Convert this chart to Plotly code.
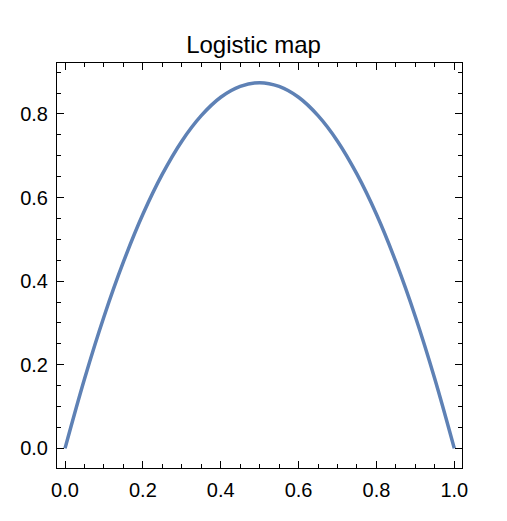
"""
    Logistic map
"""

import plotly.graph_objs as go

# curve values
x_vals = [0.0, 0.05, 0.1, 0.15, 0.2, 0.25, 0.3, 0.35, 0.4, 0.45, 0.5,
          0.55, 0.6, 0.65, 0.7, 0.75, 0.8, 0.85, 0.9, 0.95, 1.0]
y_vals = [0.0, 0.166, 0.315, 0.446, 0.56, 0.656, 0.735, 0.796, 0.84, 0.866, 0.875,
          0.866, 0.84, 0.796, 0.735, 0.656, 0.56, 0.446, 0.315, 0.166, 0.0]

x_ticks = [0.0, 0.2, 0.4, 0.6, 0.8, 1.0]
y_ticks = [0.0, 0.2, 0.4, 0.6, 0.8]

FONT = "Liberation Sans, Arial, sans-serif"


def axis_style(tickvals, rng, standoff):
    """ Framed axis with inside ticks, Mathematica look """
    return {
        "range": rng,
        "tickvals": tickvals,
        "ticktext": ["%.1f" % v for v in tickvals],
        "ticks": "inside",
        "ticklen": 7,
        "tickwidth": 1,
        "tickcolor": "black",
        "showline": True,
        "linecolor": "black",
        "linewidth": 1,
        "mirror": "ticks",
        "showgrid": False,
        "zeroline": False,
        "tickfont": {"family": FONT, "size": 20, "color": "black"},
        "ticklabelstandoff": standoff,
        "minor": {"dtick": 0.05, "ticks": "inside", "ticklen": 4,
                  "tickcolor": "black", "showgrid": False},
    }


fig = go.Figure(
    data=[
        go.Scatter(
            x=x_vals, y=y_vals, mode="lines", line_shape="spline",
            line={"color": "#5E81B5", "width": 3.5}, showlegend=False
        )
    ]
)

fig.update_layout(
    width=507, height=521,
    margin={"l": 57, "r": 45, "t": 63, "b": 53},
    paper_bgcolor="white", plot_bgcolor="white",
    title={"text": "Logistic map", "x": 0.5, "xanchor": "center",
           "y": 1 - 45 / 521, "yanchor": "middle",
           "font": {"family": FONT, "size": 24, "color": "black"}},
    xaxis=axis_style(x_ticks, [-0.0206, 1.0198], 4),
    yaxis=axis_style(y_ticks, [-0.047, 0.922], 4),
)

# drop the default page margin so the figure sits at the window corner
fig.write_html("out.html", config={"displayModeBar": False},
               post_script="document.body.style.margin = '0';")
